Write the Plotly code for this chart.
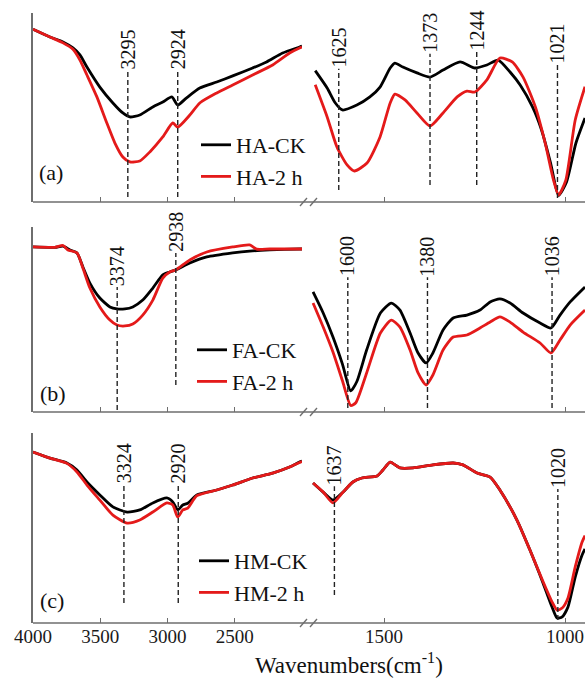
import plotly.graph_objects as go

# ---------------------------------------------------------------- data
# wavenumber (cm-1) / relative transmittance (a.u.)
# Panel (a): HA
HA_CK_HI_WN = [4000, 3874, 3777, 3703, 3651, 3599, 3503, 3406, 3332, 3280, 3206, 3109, 3035, 2968, 2924, 2860, 2760, 2634, 2515, 2367, 2263, 2144, 2018, 2000]
HA_CK_HI_T = [91.4, 87.3, 84.7, 81.5, 77.8, 71.4, 60.8, 52.4, 47.1, 45.0, 46.0, 50.3, 52.9, 55.6, 51.3, 55.0, 60.3, 63.5, 66.7, 70.9, 74.1, 78.8, 82.0, 82.5]
HA_2H_HI_WN = [4000, 3874, 3777, 3703, 3651, 3599, 3525, 3451, 3391, 3332, 3280, 3206, 3131, 3035, 2961, 2924, 2834, 2760, 2634, 2515, 2367, 2218, 2092, 2018, 2000]
HA_2H_HI_T = [91.4, 87.3, 84.2, 80.8, 75.1, 67.2, 55.6, 41.8, 31.2, 23.8, 21.2, 21.7, 26.5, 34.4, 41.8, 39.6, 46.0, 52.4, 57.7, 61.9, 67.2, 72.5, 78.8, 81.5, 82.0]
HA_CK_LO_WN = [1690, 1657, 1635, 1615, 1575, 1539, 1511, 1483, 1470, 1448, 1409, 1373, 1337, 1290, 1249, 1216, 1185, 1152, 1124, 1090, 1065, 1040, 1018, 996, 970, 945]
HA_CK_LO_T = [69.5, 60.3, 52.5, 48.7, 51.3, 55.6, 60.8, 70.9, 73.5, 71.4, 68.3, 66.1, 69.8, 74.1, 70.9, 72.5, 75.1, 68.8, 61.9, 50.3, 38.1, 20.6, 3.5, 10.6, 31.2, 44.4]
HA_2H_LO_WN = [1690, 1657, 1630, 1602, 1582, 1547, 1511, 1483, 1470, 1442, 1409, 1373, 1337, 1298, 1271, 1249, 1216, 1180, 1146, 1116, 1082, 1055, 1032, 1018, 998, 972, 945]
HA_2H_LO_T = [62.0, 45.0, 29.1, 19.6, 16.4, 20.6, 34.4, 52.4, 57.1, 54.0, 47.1, 40.2, 47.1, 55.6, 58.7, 58.2, 64.6, 76.2, 74.1, 66.1, 50.3, 31.2, 11.6, 3.7, 11.6, 43.4, 61.0]

# Panel (b): FA
FA_CK_HI_WN = [4000, 3837, 3777, 3725, 3673, 3629, 3577, 3503, 3428, 3376, 3317, 3258, 3184, 3109, 3035, 2983, 2938, 2834, 2708, 2515, 2389, 2240, 2018, 2000]
FA_CK_HI_T = [89.2, 89.0, 89.6, 87.6, 86.0, 78.4, 69.7, 61.6, 56.8, 55.7, 55.7, 56.8, 60.5, 67.0, 74.1, 75.7, 76.8, 80.5, 83.8, 86.0, 87.0, 87.6, 88.1, 88.1]
FA_2H_HI_WN = [4000, 3837, 3777, 3740, 3673, 3629, 3577, 3503, 3428, 3376, 3317, 3258, 3184, 3109, 3035, 2983, 2938, 2834, 2708, 2515, 2389, 2337, 2240, 2018, 2000]
FA_2H_HI_T = [89.2, 89.0, 90.0, 87.6, 86.0, 77.8, 67.0, 56.8, 49.7, 47.0, 46.5, 47.6, 52.4, 60.5, 72.4, 75.7, 76.8, 82.2, 86.5, 89.2, 90.3, 88.0, 88.1, 88.1, 88.1]
FA_CK_LO_WN = [1696, 1668, 1641, 1615, 1592, 1575, 1548, 1510, 1480, 1456, 1428, 1406, 1384, 1365, 1337, 1309, 1271, 1235, 1207, 1180, 1152, 1116, 1069, 1039, 1014, 986, 945]
FA_CK_LO_T = [64.9, 53.5, 40.5, 26.0, 11.4, 16.5, 33.5, 53.5, 58.9, 55.1, 42.7, 31.9, 26.5, 31.9, 44.3, 50.8, 52.4, 55.1, 59.5, 61.1, 58.9, 53.5, 48.1, 45.4, 52.4, 59.5, 67.6]
FA_2H_LO_WN = [1696, 1668, 1641, 1615, 1592, 1578, 1548, 1510, 1480, 1456, 1428, 1406, 1384, 1365, 1337, 1309, 1271, 1235, 1207, 1180, 1152, 1116, 1069, 1039, 1014, 986, 945]
FA_2H_LO_T = [58.9, 45.9, 32.4, 17.0, 3.5, 5.0, 21.1, 42.7, 49.7, 45.9, 33.5, 21.1, 14.6, 20.0, 33.5, 40.5, 41.6, 45.4, 48.6, 51.4, 48.6, 43.2, 37.3, 31.9, 38.9, 47.0, 55.1]

# Panel (c): HM
HM_CK_HI_WN = [4000, 3874, 3748, 3673, 3599, 3503, 3406, 3300, 3206, 3109, 3005, 2961, 2924, 2886, 2849, 2782, 2634, 2515, 2367, 2218, 2092, 2018, 2000]
HM_CK_HI_T = [90.0, 86.8, 84.2, 80.5, 74.2, 67.4, 61.1, 58.4, 59.5, 63.2, 65.8, 63.7, 59.5, 62.1, 63.0, 67.4, 70.0, 72.6, 76.3, 78.9, 82.1, 84.7, 85.2]
HM_2H_HI_WN = [4000, 3874, 3748, 3673, 3599, 3503, 3406, 3300, 3206, 3109, 3005, 2961, 2924, 2886, 2849, 2782, 2634, 2515, 2367, 2218, 2092, 2018, 2000]
HM_2H_HI_T = [90.0, 86.8, 84.0, 79.5, 72.6, 64.7, 56.8, 52.6, 54.2, 58.4, 63.2, 62.1, 55.8, 59.5, 60.5, 67.0, 70.0, 72.6, 76.3, 78.9, 82.1, 84.5, 85.0]
HM_CK_LO_WN = [1696, 1668, 1641, 1613, 1586, 1561, 1519, 1503, 1483, 1456, 1420, 1365, 1309, 1282, 1243, 1207, 1180, 1133, 1097, 1061, 1036, 1022, 1008, 992, 972, 953, 945]
HM_CK_LO_T = [73.7, 68.9, 64.7, 68.9, 74.2, 76.3, 77.4, 80.5, 84.7, 81.6, 81.6, 83.2, 84.2, 83.2, 78.9, 76.8, 70.0, 54.2, 38.4, 21.1, 8.4, 2.6, 3.2, 8.4, 24.2, 35.8, 39.0]
HM_2H_LO_WN = [1696, 1668, 1641, 1613, 1586, 1561, 1519, 1503, 1483, 1456, 1420, 1365, 1309, 1282, 1243, 1207, 1180, 1133, 1097, 1061, 1036, 1022, 1008, 992, 972, 953, 945]
HM_2H_LO_T = [73.7, 68.9, 63.2, 68.9, 74.2, 76.3, 77.4, 80.5, 84.7, 81.6, 81.6, 83.2, 84.2, 83.2, 78.9, 76.8, 70.0, 54.2, 38.4, 21.8, 11.1, 6.8, 7.9, 13.2, 29.5, 42.6, 46.0]

SERIES_NAMES_A = ["HA-CK", "HA-2 h"]
SERIES_NAMES_B = ["FA-CK", "FA-2 h"]
SERIES_NAMES_C = ["HM-CK", "HM-2 h"]
PANEL_LABELS = ["(a)", "(b)", "(c)"]

PEAKS_A = [3295, 2924, 1625, 1373, 1244, 1021]
PEAKS_B = [3374, 2938, 1600, 1380, 1036]
PEAKS_C = [3324, 2920, 1637, 1020]

TICKS_HI = [4000, 3500, 3000, 2500]
TICKS_LO = [1500, 1000]
X_TITLE = "Wavenumbers(cm<sup>-1</sup>)"

# ---------------------------------------------------------------- style / positions
# (text bottom, dashed line bottom) for each peak label, in panel units
PEAK_POS_A = [(69.5, 2.6), (69.5, 2.6), (70.5, 6.3), (78.5, 9.0), (79.5, 9.0), (73.0, 2.1)]
PEAK_POS_B = [(67.5, 1.1), (86.0, 14.6), (72.8, 2.2), (72.8, 2.2), (72.8, 2.2)]
PEAK_POS_C = [(73.0, 10.5), (73.0, 10.5), (72.0, 14.7), (70.5, 1.6)]

W, H = 587, 679
ML, MR, MT, MB = 33, 2, 13, 56
PW, PH = W - ML - MR, H - MT - MB
X_LEFT = [0.0, 0.4873]
X_RIGHT = [0.5047, 1.0]
Y_DOM = [[0.6902, 1.0], [0.3459, 0.6492], [0.0, 0.3115]]
RANGE_HI = [4000, 2000]
RANGE_LO = [1700, 945]
FONT = "Liberation Serif"
BLACK = "#000000"
RED = "#e41a1a"
AXC = "#6e6e6e"
LW = 2.8
PEAK_FONT = 20


def px_x(p):
    return (p - ML) / PW


def px_y(p):
    return (H - MB - p) / PH


panels = [
    dict(names=SERIES_NAMES_A, peaks=PEAKS_A, pos=PEAK_POS_A,
         hi=[(HA_CK_HI_WN, HA_CK_HI_T), (HA_2H_HI_WN, HA_2H_HI_T)],
         lo=[(HA_CK_LO_WN, HA_CK_LO_T), (HA_2H_LO_WN, HA_2H_LO_T)],
         legend_px=(196, 124), label_px=(37, 173)),
    dict(names=SERIES_NAMES_B, peaks=PEAKS_B, pos=PEAK_POS_B,
         hi=[(FA_CK_HI_WN, FA_CK_HI_T), (FA_2H_HI_WN, FA_2H_HI_T)],
         lo=[(FA_CK_LO_WN, FA_CK_LO_T), (FA_2H_LO_WN, FA_2H_LO_T)],
         legend_px=(192, 329), label_px=(38, 393)),
    dict(names=SERIES_NAMES_C, peaks=PEAKS_C, pos=PEAK_POS_C,
         hi=[(HM_CK_HI_WN, HM_CK_HI_T), (HM_2H_HI_WN, HM_2H_HI_T)],
         lo=[(HM_CK_LO_WN, HM_CK_LO_T), (HM_2H_LO_WN, HM_2H_LO_T)],
         legend_px=(194, 540), label_px=(38, 600)),
]

fig = go.Figure()
layout = dict(
    width=W, height=H,
    margin=dict(l=ML, r=MR, t=MT, b=MB, pad=0),
    paper_bgcolor="white", plot_bgcolor="white",
    font=dict(family=FONT, color="#111111"),
    showlegend=True,
)
shapes = []
annotations = []
colors = [BLACK, RED]

for i, p in enumerate(panels):
    nl, nr = 2 * i + 1, 2 * i + 2
    legend_id = "legend" if i == 0 else f"legend{i + 1}"
    for n, dom, rng, tv in [(nl, X_LEFT, RANGE_HI, TICKS_HI), (nr, X_RIGHT, RANGE_LO, TICKS_LO)]:
        sfx = "" if n == 1 else str(n)
        layout["xaxis" + sfx] = dict(
            domain=dom, range=rng, anchor="y" + sfx, showline=False, showgrid=False,
            zeroline=False, ticks="inside", ticklen=5, tickwidth=1.3, tickcolor=AXC,
            tickvals=tv, ticktext=[str(v) for v in tv], showticklabels=(i == 2),
            tickfont=dict(family=FONT, size=19, color="#1a1a1a"),
        )
        layout["yaxis" + sfx] = dict(
            domain=Y_DOM[i], range=[0, 100], anchor="x" + sfx,
            showline=(n == nl), linecolor=AXC, linewidth=1.5,
            showgrid=False, zeroline=False, showticklabels=False, ticks="",
        )
    # traces
    for k in range(2):
        for seg, n in [(p["hi"][k], nl), (p["lo"][k], nr)]:
            sfx = "" if n == 1 else str(n)
            fig.add_trace(go.Scatter(
                x=seg[0], y=seg[1], mode="lines", name=p["names"][k],
                line=dict(color=colors[k], width=LW, shape="spline", smoothing=0.6),
                xaxis="x" + sfx, yaxis="y" + sfx, legend=legend_id,
                showlegend=(n == nl), hoverinfo="skip",
            ))
    lx, ly = p["legend_px"]
    layout[legend_id] = dict(
        x=px_x(lx), y=px_y(ly), xanchor="left", yanchor="top",
        bgcolor="rgba(0,0,0,0)", borderwidth=0,
        font=dict(family=FONT, size=22, color="#111111"),
        itemwidth=30, tracegroupgap=0,
    )
    # base line of the panel across the axis break
    shapes.append(dict(type="line", xref="paper", yref="paper", x0=0, x1=1,
                       y0=Y_DOM[i][0], y1=Y_DOM[i][0], line=dict(color=AXC, width=1.5)))
    # break marks //
    for off in (-9, 1):
        shapes.append(dict(type="line", xref="paper", yref="paper",
                           xsizemode="pixel", ysizemode="pixel",
                           xanchor=px_x(309), yanchor=Y_DOM[i][0],
                           x0=off, x1=off + 7, y0=-4, y1=4,
                           line=dict(color=AXC, width=1.3)))
    # peak markers
    for pk, (ty, lyb) in zip(p["peaks"], p["pos"]):
        n = nl if pk > 1900 else nr
        sfx = "" if n == 1 else str(n)
        txt = str(pk)
        shapes.append(dict(type="line", xref="x" + sfx, yref="y" + sfx,
                           x0=pk, x1=pk, y0=lyb, y1=ty,
                           line=dict(color="#222222", width=1.4, dash="5px,3px")))
        annotations.append(dict(xref="x" + sfx, yref="y" + sfx, x=pk, y=ty,
                                text=txt, textangle=-90, showarrow=False,
                                xanchor="center", yanchor="middle", borderpad=0,
                                yshift=len(txt) * PEAK_FONT * 0.5 / 2 + 1,
                                font=dict(family=FONT, size=PEAK_FONT, color="#111111")))
    # panel letter
    bx, by = p["label_px"]
    annotations.append(dict(xref="paper", yref="paper", x=px_x(bx), y=px_y(by),
                            text=PANEL_LABELS[i], showarrow=False,
                            xanchor="left", yanchor="middle",
                            font=dict(family=FONT, size=22, color="#111111")))

annotations.append(dict(xref="paper", yref="paper", x=px_x(349), y=px_y(663),
                        text=X_TITLE, showarrow=False, xanchor="center", yanchor="middle",
                        font=dict(family=FONT, size=23, color="#111111")))

layout["shapes"] = shapes
layout["annotations"] = annotations
fig.update_layout(**layout)
fig.write_html("out.html", config={"displayModeBar": False},
               post_script="document.body.style.margin='0px';document.body.style.overflow='hidden';")
